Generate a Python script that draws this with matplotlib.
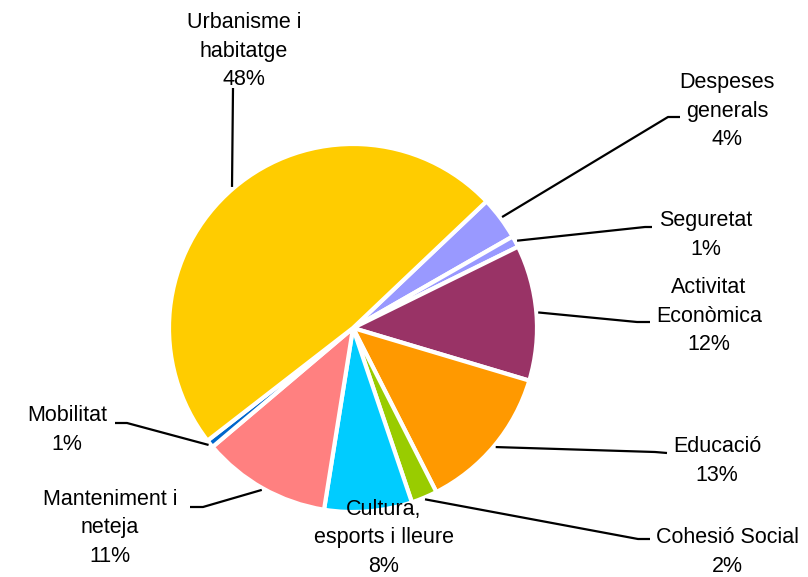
import matplotlib
matplotlib.use("Agg")
import matplotlib.pyplot as plt
import numpy as np

# ---- data ----
categories = ["Despeses\ngenerals", "Seguretat", "Activitat\nEconòmica", "Educació",
              "Cohesió Social", "Cultura,\nesports i lleure", "Manteniment i\nneteja",
              "Mobilitat", "Urbanisme i\nhabitatge"]
values = [3.8, 1.0, 11.9, 12.9, 2.3, 7.7, 11.3, 0.7, 48.4]
colors = ["#9999FF", "#9999FF", "#993366", "#FF9900", "#99CC00", "#00CCFF",
          "#FF8080", "#0066CC", "#FFCC00"]

# ---- layout (pixel coordinates, y measured from top) ----
W, H = 808, 577
center_px = (353, 328)
radius = 184
label_pos = [(727, 111), (706, 235), (709, 316), (717, 461), (727, 552),
             (384, 538), (110, 528), (67, 430), (244, 51)]
elbows = [[(668, 117), (680, 117)], [(645, 227), (652, 227)],
          [(637, 322), (650, 322)], [(655, 452), (667, 453)],
          [(638, 539), (650, 539)], None,
          [(203, 507), (190, 507)], [(127, 423), (115, 423)],
          [(233, 88)]]

plt.rcParams['font.family'] = ['Liberation Sans', 'DejaVu Sans']

fig = plt.figure(figsize=(W / 100, H / 100), dpi=100)
ax = fig.add_axes([0, 0, 1, 1])

cx, cy = center_px[0], H - center_px[1]
wedges, _ = ax.pie(values, colors=colors, startangle=43.5, counterclock=False,
                   center=(cx, cy), radius=radius,
                   wedgeprops=dict(edgecolor="white", linewidth=3))
ax.set_xlim(0, W)
ax.set_ylim(0, H)
ax.set_aspect("equal")
ax.axis("off")

total = sum(values)
for i, (w, lab, v) in enumerate(zip(wedges, categories, values)):
    pct = int(round(v / total * 100))
    tx, ty = label_pos[i]
    ax.text(tx, H - ty, f"{lab}\n{pct}%", ha="center", va="center",
            multialignment="center", fontsize=15.5, linespacing=1.45, color="black")
    if elbows[i] is not None:
        ang = np.deg2rad((w.theta1 + w.theta2) / 2)
        sx = cx + radius * 1.01 * np.cos(ang)
        sy = cy + radius * 1.01 * np.sin(ang)
        xs = [sx] + [p[0] for p in elbows[i]]
        ys = [sy] + [H - p[1] for p in elbows[i]]
        ax.plot(xs, ys, color="black", linewidth=1.6, solid_capstyle="butt")

fig.savefig("out.png", dpi=100, facecolor="white")
